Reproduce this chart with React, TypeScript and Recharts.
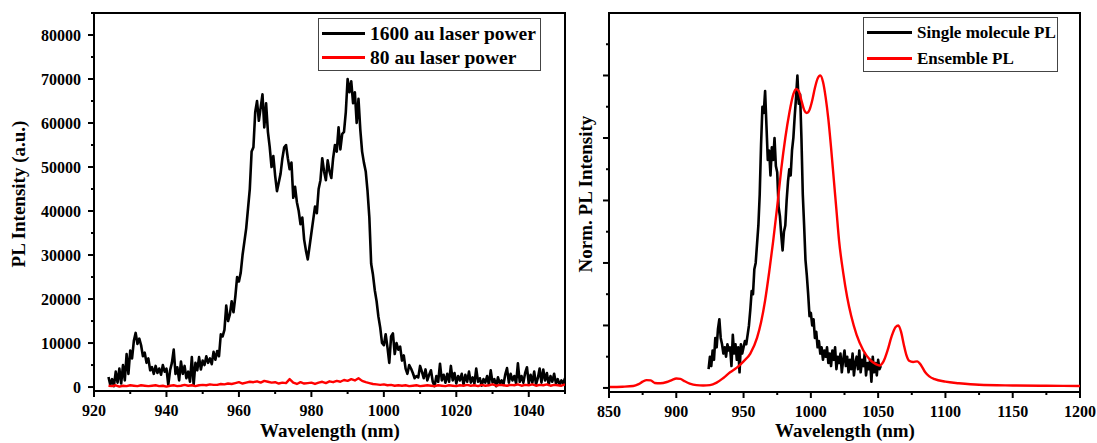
import React from 'react';
import { LineChart, Line, XAxis, YAxis, Legend, ReferenceArea } from 'recharts';

// ---- left panel: PL spectra at two laser powers ----
// 1600 au curve, sampled every 0.5 nm from 924 nm, in units of 1000 a.u.
const hiPowerStart = 924;
const hiPowerStep = 0.5;
const hiPowerK = [
  2.3, 0.5, 1.8, 0.2, 3.5, 1.0, 4.2, 0.8, 5.0, 1.5,
  7.5, 3.0, 8.3, 6.5, 10.5, 12.3, 9.8, 11.0, 9.5, 7.0,
  7.8, 5.5, 6.5, 3.8, 4.5, 3.0, 4.8, 3.2, 4.2, 2.8,
  5.0, 3.5, 4.2, 0.5, 3.8, 5.5, 8.5, 3.0, 4.5, 1.5,
  5.8, 3.0, 4.8, 2.0, 3.5, 1.2, 6.8, 0.5, 5.5, 3.8,
  6.8, 4.0, 6.0, 5.0, 7.0, 5.5, 6.5, 5.2, 8.0, 6.2,
  8.2, 7.0, 12.0, 11.5, 13.0, 18.5, 15.0, 16.5, 19.5, 17.0,
  20.5, 25.0, 24.0, 26.0, 30.0, 33.0, 36.0, 40.5, 45.0, 53.5,
  54.5, 62.5, 65.0, 60.5, 63.5, 66.5, 59.0, 64.5, 58.0, 54.5,
  50.0, 52.5, 48.0, 44.5, 46.5, 48.5, 52.0, 54.5, 55.0, 52.0,
  49.5, 51.0, 43.0, 45.5, 42.0, 40.0, 37.0, 38.5, 33.5, 31.0,
  29.0, 32.0, 35.0, 38.0, 41.0, 39.5, 45.0, 47.0, 52.0, 49.0,
  47.0, 51.5, 49.0, 47.5, 52.0, 55.0, 53.5, 59.0, 54.0, 57.5,
  58.0, 62.5, 70.0, 67.0, 69.5, 64.5, 67.0, 60.0, 65.5, 58.5,
  53.5, 51.0, 49.0, 44.5, 38.5, 28.0, 25.5, 22.0, 19.5, 16.0,
  13.5, 10.0, 9.5, 12.0, 9.0, 5.5, 11.5, 12.2, 7.5, 10.0,
  8.5, 9.2, 6.0, 7.2, 4.2, 3.0, 5.0, 4.2, 3.2, 2.0,
  2.5, 2.2, 4.8, 3.5, 2.0, 4.0, 1.5, 2.8, 3.8, 1.2,
  0.2, 2.5, 1.2, 5.3, 1.5, 2.8, 1.0, 3.0, 1.2, 4.8,
  1.5, 3.2, 0.8, 2.5, 1.5, 3.0, 0.5, 2.8, 1.2, 3.5,
  1.0, 2.2, 0.8, 4.2, 1.2, 2.0, 0.3, 1.8, 1.0, 2.5,
  0.5, 3.8, 1.0, 1.8, 0.2, 2.2, 0.8, 1.5, 0.5, 2.8,
  4.3, 1.0, 3.0, 1.5, 2.5, 0.8, 5.4, 1.2, 2.5, 1.0,
  3.2, 4.5, 0.8, 2.8, 1.0, 3.5, 0.6, 2.0, 4.2, 1.0,
  4.0, 1.5, 3.2, 0.5, 2.5, 1.2, 3.0, 0.8, 1.8, 0.5,
  1.5, 0.8, 2.0,
];

// 80 au curve, every 1 nm from 924 nm, units of 1000 a.u.
const loPowerStart = 924;
const loPowerK = [
  0.3, 0.2, 0.4, 0.1, 0.3, 0.2, 0.4, 0.3, 0.2, 0.4,
  0.3, 0.2, 0.3, 0.4, 0.2, 0.3, 0.1, 0.3, 0.4, 0.2,
  0.3, 0.5, 0.3, 0.4, 0.2, 0.4, 0.5, 0.4, 0.6, 0.5,
  0.5, 0.7, 0.6, 0.8, 0.7, 0.9, 1.1, 0.8, 1.0, 1.2,
  1.1, 1.3, 1.0, 1.4, 1.2, 1.0, 1.1, 0.8, 1.0, 0.9,
  1.8, 1.0, 0.7, 1.1, 0.8, 0.9, 1.0, 0.7, 1.0, 1.2,
  0.9, 1.3, 1.1, 1.4, 1.2, 1.6, 1.4, 1.8, 1.5, 2.0,
  1.4, 1.1, 0.9, 0.7, 0.6, 0.5, 0.6, 0.4, 0.5, 0.3,
  0.4, 0.3, 0.4, 0.2, 0.3, 0.4, 0.2, 0.3, 0.4, 0.3,
  0.2, 0.4, 0.3, 0.2, 0.4, 0.3, 0.2, 0.4, 0.3, 0.5,
  0.3, 0.4, 0.2, 0.5, 0.3, 0.4, 0.6, 0.3, 0.5, 0.4,
  0.3, 0.5, 0.4, 0.6, 0.3, 0.5, 0.4, 0.6, 0.3, 0.5,
  0.4, 0.6, 0.3, 0.5, 0.4, 0.3, 0.6,
];

// ---- right panel: normalized spectra ----
// single molecule, every 1 nm from 924 nm
const singleStart = 924;
const singleNorm = [
  0.06, 0.10, 0.07, 0.12, 0.09, 0.16, 0.13, 0.19, 0.22, 0.16,
  0.14, 0.11, 0.13, 0.10, 0.14, 0.12, 0.13, 0.07, 0.17, 0.11,
  0.14, 0.09, 0.13, 0.05, 0.14, 0.11, 0.13, 0.15, 0.14, 0.17,
  0.20, 0.25, 0.31, 0.30, 0.38, 0.40, 0.46, 0.52, 0.62, 0.78,
  0.90, 0.88, 0.95, 0.84, 0.73, 0.76, 0.68, 0.77, 0.73, 0.80,
  0.71, 0.69, 0.58, 0.55, 0.49, 0.44, 0.50, 0.52, 0.60, 0.66,
  0.70, 0.68, 0.76, 0.80, 0.87, 0.93, 1.00, 0.91, 0.94, 0.80,
  0.62, 0.52, 0.41, 0.36, 0.30, 0.23, 0.24, 0.20, 0.22, 0.16,
  0.18, 0.13, 0.15, 0.11, 0.13, 0.09, 0.12, 0.10, 0.13, 0.08,
  0.11, 0.07, 0.12, 0.09, 0.13, 0.06, 0.10, 0.08, 0.11, 0.05,
  0.09, 0.12, 0.07, 0.10, 0.05, 0.09, 0.06, 0.11, 0.04, 0.08,
  0.10, 0.06, 0.12, 0.05, 0.09, 0.07, 0.11, 0.04, 0.08, 0.06,
  0.09, 0.02, 0.10, 0.05, 0.08, 0.04, 0.09, 0.06, 0.07,
];

// ensemble, irregular sampling
const ensembleNm = [
  850, 860, 868, 872, 875, 878, 881, 884, 888, 893, 897, 900, 903, 906, 910, 915, 920, 925,
  930, 935, 940, 945, 950, 955, 960, 963, 966, 969, 972, 975, 978, 981, 984, 987, 989, 991,
  993, 995, 997, 999, 1001, 1003, 1005, 1007, 1009, 1011, 1013, 1015, 1017, 1019, 1021, 1024,
  1027, 1030, 1034, 1039, 1044, 1048, 1051, 1054, 1057, 1060, 1063, 1065, 1067, 1069, 1071,
  1073, 1076, 1079, 1082, 1085, 1088, 1092, 1100, 1110, 1125, 1150, 1175, 1200,
];
const ensembleNorm = [
  0.003, 0.004, 0.006, 0.012, 0.02, 0.025, 0.024, 0.016, 0.015, 0.019, 0.026, 0.03, 0.029, 0.022, 0.014, 0.009, 0.008, 0.009,
  0.017, 0.032, 0.05, 0.065, 0.085, 0.11, 0.16, 0.21, 0.28, 0.37, 0.47, 0.58, 0.7, 0.8, 0.88, 0.94, 0.957, 0.95,
  0.92, 0.89, 0.88, 0.89, 0.92, 0.96, 0.99, 1.0, 0.98, 0.93, 0.86, 0.77, 0.67, 0.57, 0.47, 0.37,
  0.29, 0.23, 0.17, 0.12, 0.09, 0.077, 0.072, 0.085, 0.12, 0.165, 0.195, 0.2, 0.18, 0.14, 0.105,
  0.087, 0.083, 0.085, 0.072, 0.05, 0.037, 0.028, 0.02, 0.015, 0.01, 0.008, 0.007, 0.006,
];

// ---- ticks ----
const leftXTicks = [920, 930, 940, 950, 960, 970, 980, 990, 1000, 1010, 1020, 1030, 1040, 1050];
const leftYTicks = [0, 5000, 10000, 15000, 20000, 25000, 30000, 35000, 40000, 45000, 50000, 55000, 60000, 65000, 70000, 75000, 80000, 85000];
const rightXTicks = [850, 875, 900, 925, 950, 975, 1000, 1025, 1050, 1075, 1100, 1125, 1150, 1175, 1200];
const rightYTicks = [0, 0.1, 0.2, 0.3, 0.4, 0.5, 0.6, 0.7, 0.8, 0.9, 1.0, 1.1];

const leftNames = ['1600 au laser power', '80 au laser power'];
const rightNames = ['Single molecule PL', 'Ensemble PL'];

const hiPowerData = hiPowerK.map((v, i) => ({ nm: hiPowerStart + i * hiPowerStep, v: v * 1000 }));
const loPowerData = loPowerK.map((v, i) => ({ nm: loPowerStart + i, v: v * 1000 }));
const singleData = singleNorm.map((v, i) => ({ nm: singleStart + i, v }));
const ensembleData = ensembleNm.map((nm, i) => ({ nm, v: ensembleNorm[i] }));

const FONT = '"Liberation Serif", "Times New Roman", serif';
const TICK = 6;
const MINOR = 3;
const GAP_X = 8;
const GAP_Y = 7;

const makeXTick = (isMajor: (v: number) => boolean) => (props: any) => {
  const { x, y, payload } = props;
  const axisY = y - TICK - GAP_X;
  const major = isMajor(payload.value);
  return (
    <g>
      <line x1={x} x2={x} y1={axisY} y2={axisY + (major ? TICK : MINOR)} stroke="#000" strokeWidth={2} />
      {major && (
        <text x={x} y={y} dy="0.71em" textAnchor="middle" fontFamily={FONT} fontWeight="bold" fontSize={16} fill="#000">
          {payload.value}
        </text>
      )}
    </g>
  );
};

const makeYTick = (isMajor: (v: number) => boolean, showLabel: boolean) => (props: any) => {
  const { x, y, payload } = props;
  const axisX = x + TICK + GAP_Y;
  const major = isMajor(payload.value);
  return (
    <g>
      <line x1={axisX - (major ? TICK : MINOR)} x2={axisX} y1={y} y2={y} stroke="#000" strokeWidth={2} />
      {major && showLabel && (
        <text x={x} y={y} dy="0.355em" textAnchor="end" fontFamily={FONT} fontWeight="bold" fontSize={16} fill="#000">
          {payload.value}
        </text>
      )}
    </g>
  );
};

// legend box drawn in series order (recharts sorts by name otherwise)
const LegendBox = ({ payload, order, fontSize, lineW }: any) => {
  const items = [...(payload || [])].sort((a: any, b: any) => order.indexOf(a.value) - order.indexOf(b.value));
  return (
    <div
      style={{
        boxSizing: 'border-box', width: '100%', height: '100%', border: '1px solid #444', background: '#fff',
        padding: '2px 0 0 3px', fontFamily: FONT, fontWeight: 'bold', fontSize, color: '#000',
        display: 'flex', flexDirection: 'column', justifyContent: 'space-around',
      }}
    >
      {items.map((p: any) => (
        <div key={p.value} style={{ display: 'flex', alignItems: 'center' }}>
          <span style={{ display: 'inline-block', width: lineW, height: 3, background: p.color, marginRight: 5 }} />
          <span style={{ lineHeight: 1, whiteSpace: 'nowrap' }}>{p.value}</span>
        </div>
      ))}
    </div>
  );
};

const titleStyle: React.CSSProperties = {
  position: 'absolute', fontFamily: FONT, fontWeight: 'bold', fontSize: 19, lineHeight: 1,
  whiteSpace: 'nowrap', color: '#000',
};

export default function App() {
  const axisLine = { stroke: '#000', strokeWidth: 2 };
  return (
    <div style={{ position: 'absolute', left: 0, top: 0, width: 1097, height: 443, background: '#fff', overflow: 'hidden' }}>
      <div style={{ position: 'absolute', left: 0, top: 0 }}>
        <LineChart width={580} height={443} margin={{ top: 13, right: 15, bottom: 22, left: 0 }}>
          <XAxis
            dataKey="nm" type="number" domain={[920, 1050]} allowDataOverflow ticks={leftXTicks} interval={0}
            height={30} axisLine={axisLine} tickLine={false} tickSize={TICK} tickMargin={GAP_X}
            tick={makeXTick((v) => (v - 920) % 20 === 0 && v < 1050)}
          />
          <YAxis
            type="number" domain={[-900, 85000]} allowDataOverflow ticks={leftYTicks} interval={0}
            width={94} axisLine={axisLine} tickLine={false} tickSize={TICK} tickMargin={GAP_Y}
            tick={makeYTick((v) => v % 10000 === 0 && v <= 80000, true)}
          />
          <ReferenceArea x1={920} x2={1050} y1={-900} y2={85000} fill="none" stroke="#000" strokeWidth={2} ifOverflow="visible" />
          <Line data={hiPowerData} dataKey="v" name={leftNames[0]} type="linear" dot={false}
            stroke="#000" strokeWidth={2.6} strokeLinejoin="round" isAnimationActive={false} />
          <Line data={loPowerData} dataKey="v" name={leftNames[1]} type="linear" dot={false}
            stroke="#ff0000" strokeWidth={2.4} strokeLinejoin="round" isAnimationActive={false} />
          <Legend
            layout="horizontal" verticalAlign="middle" align="center"
            wrapperStyle={{ left: 318, top: 18, width: 223, height: 53 }}
            content={(p: any) => <LegendBox payload={p.payload} order={leftNames} fontSize={19.5} lineW={43} />}
          />
        </LineChart>
      </div>

      <div style={{ position: 'absolute', left: 580, top: 0 }}>
        <LineChart width={517} height={443} margin={{ top: 13, right: 17, bottom: 21, left: 0 }}>
          <XAxis
            dataKey="nm" type="number" domain={[850, 1200]} allowDataOverflow ticks={rightXTicks} interval={0}
            height={30} axisLine={axisLine} tickLine={false} tickSize={TICK} tickMargin={GAP_X}
            tick={makeXTick((v) => v % 50 === 0)}
          />
          <YAxis
            type="number" domain={[-0.013, 1.2]} allowDataOverflow ticks={rightYTicks} interval={0}
            width={29} axisLine={axisLine} tickLine={false} tickSize={TICK} tickMargin={GAP_Y}
            tick={makeYTick((v) => Math.round(v * 10) % 2 === 0, false)}
          />
          <ReferenceArea x1={850} x2={1200} y1={-0.013} y2={1.2} fill="none" stroke="#000" strokeWidth={2} ifOverflow="visible" />
          <Line data={singleData} dataKey="v" name={rightNames[0]} type="linear" dot={false}
            stroke="#000" strokeWidth={2.6} strokeLinejoin="round" isAnimationActive={false} />
          <Line data={ensembleData} dataKey="v" name={rightNames[1]} type="monotone" dot={false}
            stroke="#ff0000" strokeWidth={2.4} isAnimationActive={false} />
          <Legend
            layout="horizontal" verticalAlign="middle" align="center"
            wrapperStyle={{ left: 283, top: 17, width: 195, height: 55 }}
            content={(p: any) => <LegendBox payload={p.payload} order={rightNames} fontSize={17} lineW={45} />}
          />
        </LineChart>
      </div>

      {/* axis titles */}
      <div style={{ ...titleStyle, left: 18, top: 194, transform: 'translate(-50%, -50%) rotate(-90deg)' }}>PL Intensity (a.u.)</div>
      <div style={{ ...titleStyle, left: 330, top: 421, transform: 'translateX(-50%)' }}>Wavelength (nm)</div>
      <div style={{ ...titleStyle, left: 585, top: 194, transform: 'translate(-50%, -50%) rotate(-90deg)' }}>Norm. PL Intensity</div>
      <div style={{ ...titleStyle, left: 845, top: 421, transform: 'translateX(-50%)' }}>Wavelength (nm)</div>
    </div>
  );
}
